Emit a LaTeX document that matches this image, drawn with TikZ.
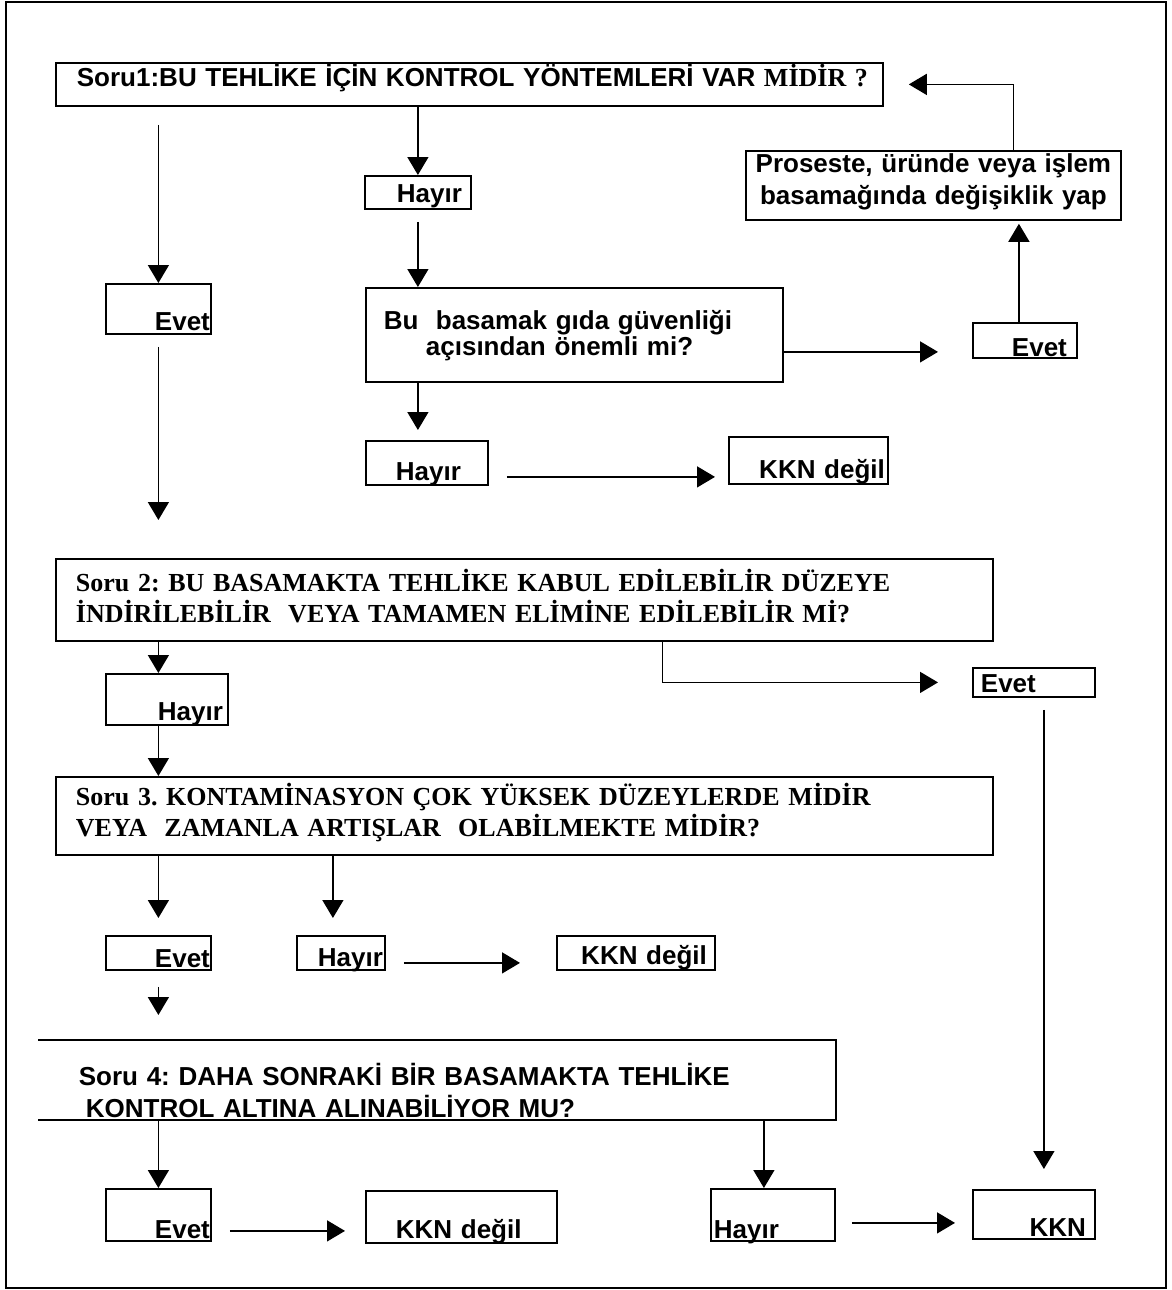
\documentclass[tikz,border=0pt]{standalone}
\usepackage{fontspec}
\setmainfont{Liberation Serif}
\setsansfont{Liberation Sans}
\usetikzlibrary{arrows.meta,positioning}
\newcommand\sfq{\fontsize{26}{32}\selectfont\sffamily\bfseries\frenchspacing}
\newcommand\rmq{\fontsize{26}{31}\selectfont\rmfamily\bfseries\frenchspacing}

\begin{document}
\begin{tikzpicture}[x=1pt,y=-1pt,
      >={Triangle[length=18pt,width=21pt]},
      bx/.style={draw,line width=1.8pt,inner ysep=0pt,anchor=north west,font=\sfq},
      ar/.style={->,line width=1.5pt}]

    \useasboundingbox (0,0) rectangle (1171,1290);
    \draw[line width=1.8pt] (6,2) rectangle (1166,1288);

    \node[bx,inner xsep=21pt,text width=785pt,align=left,text height=24pt,text depth=19pt] (s1) at (55,62)
       {\mbox{Soru1:BU TEHLİKE İÇİN KONTROL YÖNTEMLERİ VAR {\rmfamily MİDİR ?}}};
    \node[bx,inner xsep=9pt,text width=88pt,align=right,text height=27pt,text depth=6pt] (h1) at (364,175) {Hayır};
    \node[bx,inner xsep=18pt,text width=381pt,align=left,text height=42pt,text depth=52pt] (q1) at (365,287)
       {Bu\ \ basamak gıda güvenliği\\[-6pt] \hspace*{42pt}açısından önemli mi?};
    \node[bx,inner xsep=3pt,text width=153pt,align=right,text height=42pt,text depth=5pt] (k1) at (728,436) {KKN değil};
    \node[bx,inner xsep=27pt,text width=68pt,align=right,text height=40pt,text depth=4pt] (h2) at (365,440) {Hayır};
    \node[bx,inner xsep=10pt,text width=84pt,align=right,text height=34pt,text depth=1pt] (e1r) at (972,322) {Evet};
    \node[bx,inner xsep=5pt,text width=365pt,align=center,text height=22pt,text depth=47pt] (pr) at (745,150)
       {Proseste, üründe veya işlem\\ basamağında değişiklik yap};
    \node[bx,inner xsep=1pt,text width=103pt,align=right,text height=47pt,text depth=3pt] (e1) at (105,283) {Evet};

    \node[bx,font=\rmq,inner xsep=20pt,text width=897pt,align=left,text height=33pt,text depth=49pt] (s2) at (55,558)
       {Soru 2: BU BASAMAKTA TEHLİKE KABUL EDİLEBİLİR DÜZEYE\\ İNDİRİLEBİLİR\ \ VEYA TAMAMEN ELİMİNE EDİLEBİLİR Mİ?};
    \node[bx,inner xsep=5pt,text width=112pt,align=right,text height=47pt,text depth=4pt] (h3) at (105,673) {Hayır};
    \node[bx,inner xsep=8pt,text width=106pt,align=left,text height=25pt,text depth=4pt] (e2r) at (972,667) {Evet};
    \node[bx,font=\rmq,inner xsep=20pt,text width=897pt,align=left,text height=29pt,text depth=49pt] (s3) at (55,776)
       {Soru 3. KONTAMİNASYON ÇOK YÜKSEK DÜZEYLERDE MİDİR\\ VEYA\ \ ZAMANLA ARTIŞLAR\ \ OLABİLMEKTE MİDİR?};
    \node[bx,inner xsep=1pt,text width=103pt,align=right,text height=32pt,text depth=2pt] (e3) at (105,935) {Evet};
    \node[bx,inner xsep=2pt,text width=84pt,align=right,text height=31pt,text depth=3pt] (h4) at (296,935) {Hayır};
    \node[bx,inner xsep=8pt,text width=142pt,align=right,text height=29pt,text depth=5pt] (k2) at (556,935) {KKN değil};

    \node[bx,draw=none,inner xsep=40pt,text width=716pt,align=left,text height=45pt,text depth=33pt] (s4) at (38,1040)
       {Soru 4: DAHA SONRAKİ BİR BASAMAKTA TEHLİKE\\ \hspace*{7pt}KONTROL ALTINA ALINABİLİYOR MU?};
    \draw[line width=1.8pt] (s4.north west) -- (s4.north east) -- (s4.south east) -- (s4.south west);
    \node[bx,inner xsep=1pt,text width=103pt,align=right,text height=50pt,text depth=2pt] (e4) at (105,1188) {Evet};
    \node[bx,inner xsep=30pt,text width=131pt,align=left,text height=48pt,text depth=4pt] (k3) at (365,1190) {KKN değil};
    \node[bx,inner xsep=3pt,text width=118pt,align=left,text height=50pt,text depth=2pt] (h5) at (710,1188) {Hayır};
    \node[bx,inner xsep=9pt,text width=104pt,align=right,text height=47pt,text depth=2pt] (kkn) at (972,1189) {KKN};

    % Soru 1
    \draw[ar] (s1.south -| h1.north) -- (h1.north);
    \draw[ar,shorten <=12pt] (h1.south) -- (h1.south |- q1.north);
    \draw[ar,shorten >=10pt] (q1.south -| h1.south) -- (h2.north -| h1.south);
    \draw[ar,shorten <=18pt,shorten >=13pt] ([yshift=-14pt]h2.east) -- ([yshift=-14pt]h2.east -| k1.west);
    \draw[ar,shorten >=34pt] ([yshift=-17pt]q1.east) -- ([yshift=-17pt]q1.east -| e1r.west);
    \draw[ar,shorten >=3pt] ([xshift=-6pt]e1r.north) -- ([xshift=-6pt]e1r.north |- pr.south);
    \draw[ar,shorten >=25pt] ([xshift=80pt]pr.north) |- (s1.east);
    \draw[ar,shorten <=18pt] (s1.south -| e1.north) -- (e1.north);
    \draw[ar,shorten <=12pt,shorten >=38pt] (e1.south) -- (e1.south |- s2.north);

    % Soru 2 and 3
    \draw[ar] (s2.south -| e1.south) -- (h3.north -| e1.south);
    \draw[ar] (h3.south -| e1.south) -- (s3.north -| e1.south);
    \draw[ar,shorten >=34pt] ([xshift=138pt]s2.south) |- (e2r.west);
    \draw[ar,shorten <=12pt,shorten >=20pt] ([xshift=10pt]e2r.south) -- ([xshift=10pt]e2r.south |- kkn.north);
    \draw[ar,shorten >=17pt] (s3.south -| e3.north) -- (e3.north);
    \draw[ar,shorten >=17pt] ([xshift=-8pt]h4.north |- s3.south) -- ([xshift=-8pt]h4.north);
    \draw[ar,shorten <=18pt,shorten >=36pt] ([yshift=-10pt]h4.east) -- ([yshift=-10pt]h4.east -| k2.west);
    \draw[ar,shorten <=16pt,shorten >=25pt] (e3.south) -- (e3.south |- s4.north);

    % Soru 4
    \draw[ar] (s4.south -| e4.north) -- (e4.north);
    \draw[ar,shorten <=18pt,shorten >=20pt] ([yshift=-16pt]e4.east) -- ([yshift=-16pt]e4.east -| k3.west);
    \draw[ar] ([xshift=-9pt]h5.north |- s4.south) -- ([xshift=-9pt]h5.north);
    \draw[ar,shorten <=16pt,shorten >=17pt] ([yshift=-8pt]h5.east) -- ([yshift=-8pt]h5.east -| kkn.west);
  \end{tikzpicture}
\end{document}
